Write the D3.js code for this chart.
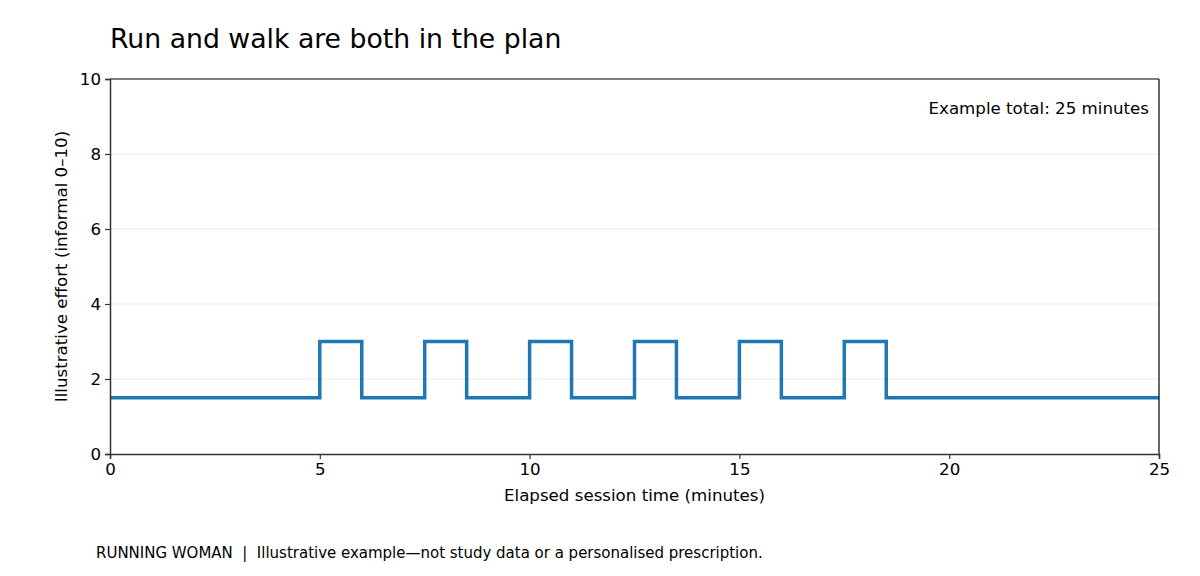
<!DOCTYPE html>
<html>
<head>
<meta charset="utf-8">
<script src="https://cdn.jsdelivr.net/npm/d3@7"></script>
<style>
  body { margin: 0; background: #fff; }
  svg text { font-family: "DejaVu Sans", sans-serif; fill: #000; }
</style>
</head>
<body>
<div id="chart"></div>
<script>
// --- Data ---
const segmentStarts = [0, 5, 6, 7.5, 8.5, 10, 11, 12.5, 13.5, 15, 16, 17.5, 18.5, 25];
const segmentEffort = [1.5, 3, 1.5, 3, 1.5, 3, 1.5, 3, 1.5, 3, 1.5, 3, 1.5, 1.5];
const xTicks = [0, 5, 10, 15, 20, 25];
const yTicks = [0, 2, 4, 6, 8, 10];
const gridTicks = [2, 4, 6, 8];

const titleText = "Run and walk are both in the plan";
const noteText = "Example total: 25 minutes";
const xLabel = "Elapsed session time (minutes)";
const yLabel = "Illustrative effort (informal 0\u201310)";
const footerText = "RUNNING WOMAN  |  Illustrative example\u2014not study data or a personalised prescription.";

// --- Layout ---
const W = 1200, H = 576;
const margin = { top: 79, right: 41, bottom: 122, left: 110 };
const width = W - margin.left - margin.right;
const height = H - margin.top - margin.bottom;
const fs = "16.67px";

const svg = d3.select("#chart").append("svg")
  .attr("width", W).attr("height", H);

const g = svg.append("g")
  .attr("transform", `translate(${margin.left},${margin.top})`);

const x = d3.scaleLinear().domain([0, 25]).range([0, width]);
const y = d3.scaleLinear().domain([0, 10]).range([height, 0]);

// Grid
g.append("g")
  .selectAll("line")
  .data(gridTicks)
  .join("line")
  .attr("x1", 0).attr("x2", width)
  .attr("y1", d => y(d)).attr("y2", d => y(d))
  .attr("stroke", "#ebebeb").attr("stroke-width", 1);

// Step line
const pts = segmentStarts.map((t, i) => [t, segmentEffort[i]]);
const line = d3.line()
  .x(d => x(d[0]))
  .y(d => y(d[1]))
  .curve(d3.curveStepAfter);

g.append("path")
  .datum(pts)
  .attr("d", line)
  .attr("fill", "none")
  .attr("stroke", "#1f77b4")
  .attr("stroke-width", 3.5)
  .attr("stroke-linejoin", "miter");

// Frame (top/right black)
g.append("line").attr("x1", 0).attr("x2", width).attr("y1", 0).attr("y2", 0)
  .attr("stroke", "#000").attr("stroke-width", 1.2);
g.append("line").attr("x1", width).attr("x2", width).attr("y1", 0).attr("y2", height)
  .attr("stroke", "#000").attr("stroke-width", 1.2);

// Axes
const xAxis = g.append("g")
  .attr("transform", `translate(0,${height})`)
  .call(d3.axisBottom(x).tickValues(xTicks).tickSize(5).tickPadding(4).tickFormat(d3.format("d")));
const yAxis = g.append("g")
  .call(d3.axisLeft(y).tickValues(yTicks).tickSize(5).tickPadding(4).tickFormat(d3.format("d")));

[xAxis, yAxis].forEach(a => {
  a.select(".domain").attr("stroke", "#333").attr("stroke-width", 1.5);
  a.selectAll(".tick line").attr("stroke", "#333").attr("stroke-width", 1.2);
  a.selectAll(".tick text")
    .style("font-family", "DejaVu Sans, sans-serif")
    .style("font-size", fs)
    .attr("fill", "#000");
});

// Axis labels
g.append("text")
  .attr("x", width / 2).attr("y", height + 47)
  .attr("text-anchor", "middle")
  .style("font-size", fs)
  .text(xLabel);

g.append("text")
  .attr("transform", `translate(-43,${height / 2}) rotate(-90)`)
  .attr("text-anchor", "middle")
  .style("font-size", fs)
  .text(yLabel);

// Note
g.append("text")
  .attr("x", width - 10).attr("y", 35)
  .attr("text-anchor", "end")
  .style("font-size", fs)
  .text(noteText);

// Title
svg.append("text")
  .attr("x", 110).attr("y", 48)
  .style("font-size", "26.7px")
  .text(titleText);

// Footer
svg.append("text")
  .attr("x", 96).attr("y", 558)
  .style("font-family", "'DejaVu Sans Condensed', 'DejaVu Sans', sans-serif")
  .style("font-stretch", "condensed")
  .style("font-size", fs)
  .attr("xml:space", "preserve")
  .style("white-space", "pre")
  .text(footerText);
</script>
</body>
</html>
